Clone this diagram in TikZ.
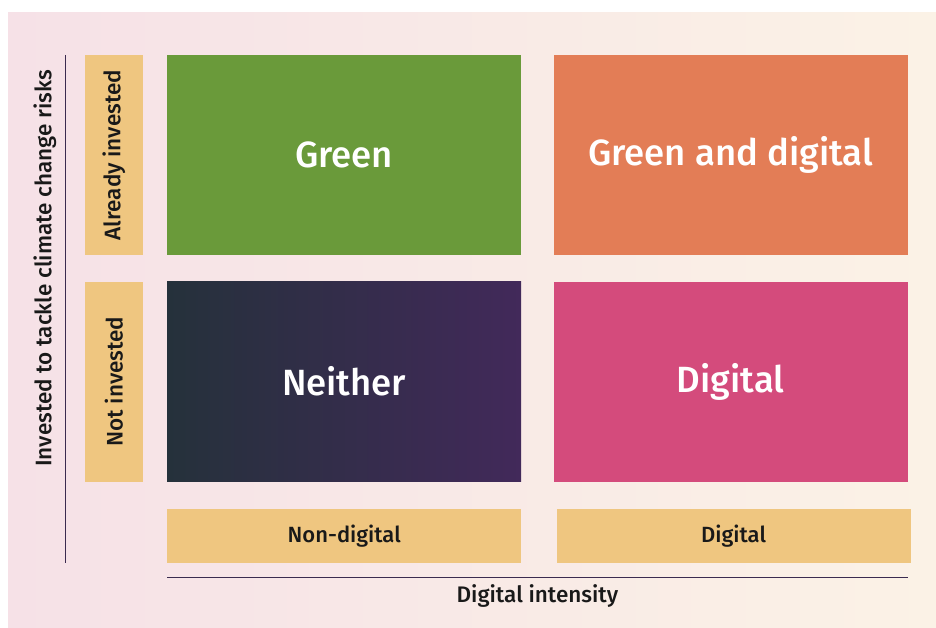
\documentclass[tikz,border=0pt]{standalone}
\usepackage{fontspec}
\setmainfont{Fira Sans}[UprightFont={* Medium}]
\usetikzlibrary{positioning}

\definecolor{bgpink}{HTML}{F6E1E7}
\definecolor{bgcream}{HTML}{FBF2E6}
\definecolor{cellgreen}{HTML}{6A9A3A}
\definecolor{cellorange}{HTML}{E37D56}
\definecolor{cellpink}{HTML}{D44B7C}
\definecolor{darkleft}{HTML}{25313B}
\definecolor{darkright}{HTML}{42295A}
\definecolor{sand}{HTML}{EFC680}
\definecolor{axisline}{HTML}{3B2B4F}

\tikzset{
    cell/.style={
        anchor=north west, inner sep=0pt,
        minimum width=354pt, minimum height=200pt,
        text=white, font=\fontsize{36.5}{40}\selectfont
    },
    tag/.style={
        fill=sand, inner sep=0pt, text=black!90,
        font=\fontsize{22}{24}\selectfont
    },
    axis/.style={draw=axisline, line width=1.3pt}
}

\begin{document}
\begin{tikzpicture}[x=1pt, y=-1pt]
    \useasboundingbox (0,0) rectangle (936,628);
    % soft pink to cream backdrop
    \shade [left color=bgpink, right color=bgcream] (8,13) rectangle (936,628);

    % the four quadrants
    \node [cell, fill=cellgreen] (green) at (167,55) {Green};
    \node [cell, fill=cellorange, right=32pt of green] (both) {Green and digital};
    \node [cell, left color=darkleft, right color=darkright, below=26pt of green] (neither) {Neither};
    \node [cell, fill=cellpink, below=26pt of both] (digital) {Digital};

    % row tags
    \node [tag, font=\fontsize{22.5}{24}\selectfont, minimum width=58pt, minimum height=200pt, left=24pt of green] (already) {\rotatebox{90}{Already invested}};
    \node [tag, font=\fontsize{22.5}{24}\selectfont, minimum width=58pt, minimum height=200pt, left=24pt of neither] (notinv) {\rotatebox{90}{Not invested}};

    % column tags
    \node [tag, minimum width=354pt, minimum height=54pt, below=27pt of neither] (nondig) {Non-digital};
    \node [tag, minimum width=354pt, minimum height=54pt, below=27pt of digital, xshift=3pt] (dig) {Digital};

    % axes
    \coordinate (xa) at ([yshift=-14pt]nondig.south west);
    \coordinate (xb) at (xa -| both.east);
    \draw [axis] (xa) -- (xb);
    \coordinate (ya) at ([xshift=-19pt]already.north west);
    \coordinate (yb) at (ya |- nondig.south);
    \draw [axis] (ya) -- (yb);

    \path (xa) -- (xb) node [midway, below=7pt, tag, fill=none, font=\fontsize{22.5}{24}\selectfont] (xlabel) {Digital intensity};
    \path (already.north) -- (notinv.south) node [midway, xshift=-69pt, tag, fill=none, font=\fontsize{22.5}{24}\selectfont] (ylabel) {\rotatebox{90}{Invested to tackle climate change risks}};
\end{tikzpicture}
\end{document}
